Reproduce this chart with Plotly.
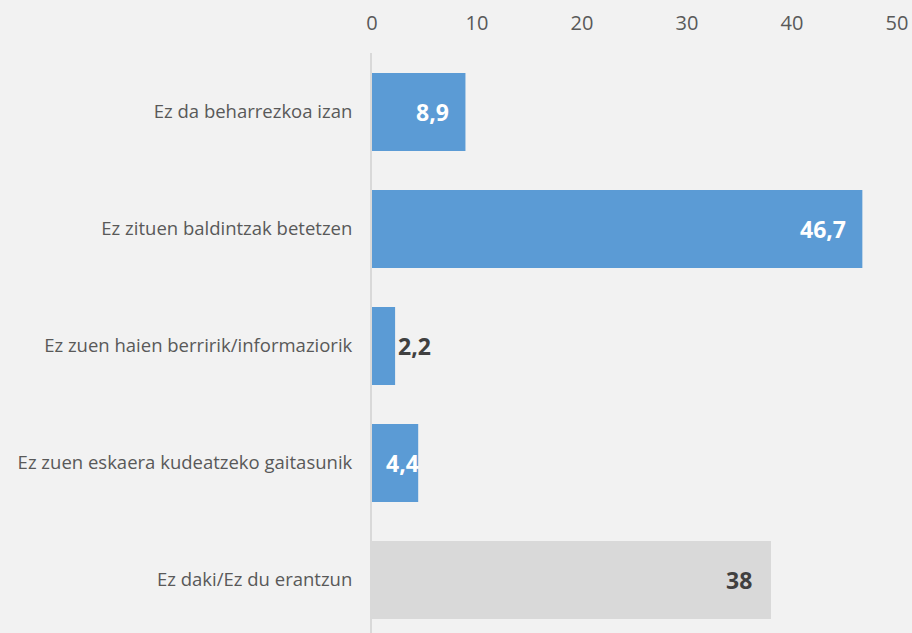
import plotly.graph_objects as go

categories = [
    "Ez da beharrezkoa izan",
    "Ez zituen baldintzak betetzen",
    "Ez zuen haien berririk/informaziorik",
    "Ez zuen eskaera kudeatzeko gaitasunik",
    "Ez daki/Ez du erantzun",
]
values = [8.9, 46.7, 2.2, 4.4, 38]
value_labels = ["8,9", "46,7", "2,2", "4,4", "38"]
tick_vals = [0, 10, 20, 30, 40, 50]

BLUE = "#5b9bd5"
GREY = "#d9d9d9"
bar_colors = [BLUE, BLUE, BLUE, BLUE, GREY]
label_colors = ["white", "white", "#404040", "white", "#404040"]
label_anchor = ["right", "right", "left", "right", "right"]
label_shift = [-14, -14, 1, 3, -17]

fig = go.Figure()
fig.add_trace(go.Bar(
    y=categories, x=values, orientation="h",
    marker=dict(color=bar_colors, line=dict(width=0)),
    width=0.667, hoverinfo="skip",
))

for c, v, t, col, anc, sh in zip(categories, values, value_labels, label_colors, label_anchor, label_shift):
    fig.add_annotation(
        x=v, y=c, text="<b>%s</b>" % t, showarrow=False,
        xanchor=anc, yanchor="middle", xshift=sh,
        font=dict(family="Open Sans", size=23, color=col),
    )

fig.update_layout(
    width=912, height=633,
    paper_bgcolor="#f2f2f2", plot_bgcolor="#f2f2f2",
    margin=dict(l=372, r=15, t=53, b=0),
    showlegend=False,
    font=dict(family="Open Sans", color="#595959"),
)
fig.update_xaxes(
    range=[0, 50], side="top", tickvals=tick_vals,
    showgrid=False, zeroline=False, showline=False,
    tickfont=dict(size=20, color="#595959"), ticks="", ticklabelstandoff=18,
)
fig.update_yaxes(
    categoryorder="array", categoryarray=categories,
    range=[4.453, -0.504],
    showgrid=False, zeroline=False,
    showline=True, linecolor="#d9d9d9", linewidth=2,
    ticks="", tickfont=dict(size=18.5, color="#595959"), ticklabelstandoff=14,
)

fig.write_html(
    "out.html",
    config={"displayModeBar": False},
    post_script="document.body.style.margin='0';document.body.style.overflow='hidden';",
)
